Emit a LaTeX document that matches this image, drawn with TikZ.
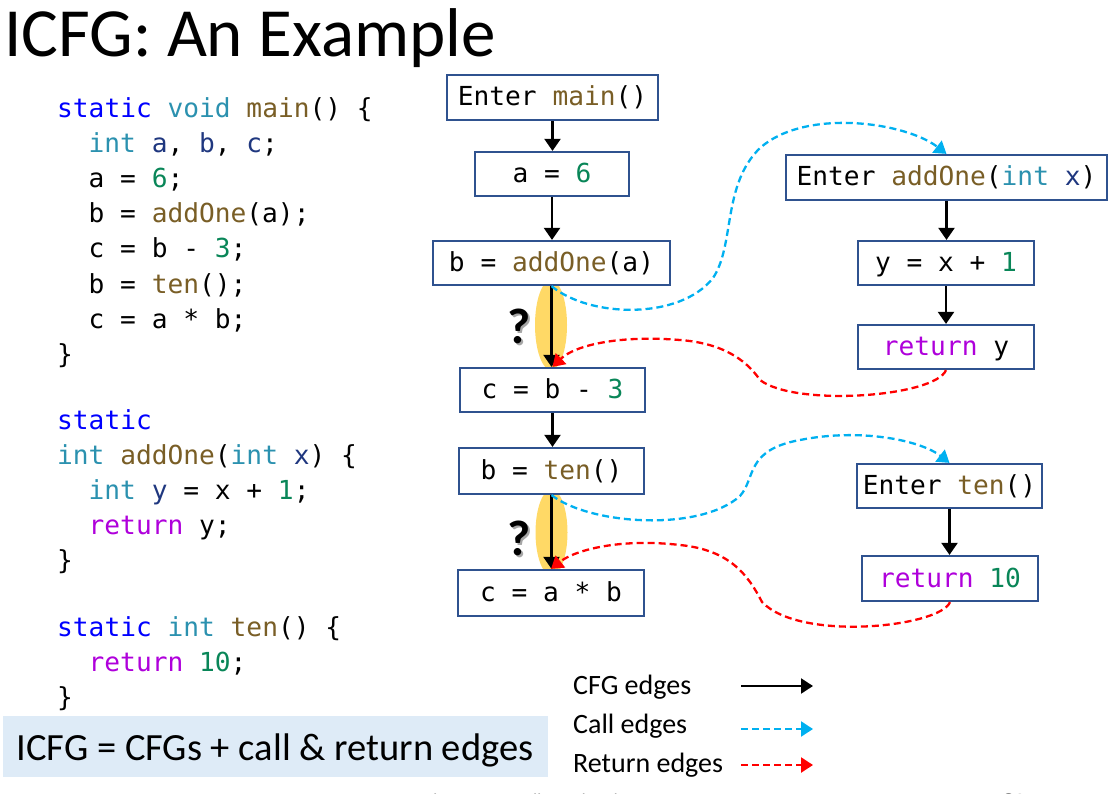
\documentclass[tikz,border=0pt]{standalone}
\usepackage{fontspec}
\setmainfont{Carlito}
\newfontfamily\codefont{DejaVu Sans Mono}
\usetikzlibrary{arrows.meta,shapes.geometric}
\definecolor{kwblue}{RGB}{0,0,255}
\definecolor{kwteal}{RGB}{43,145,175}
\definecolor{fnbrown}{RGB}{121,94,38}
\definecolor{varnavy}{RGB}{31,55,127}
\definecolor{numgreen}{RGB}{9,134,88}
\definecolor{retpurple}{RGB}{175,0,219}
\definecolor{boxblue}{RGB}{47,82,143}
\definecolor{callblue}{RGB}{0,176,240}
\definecolor{hlyellow}{RGB}{255,217,102}
\definecolor{notefill}{RGB}{222,235,247}
\definecolor{footgray}{RGB}{140,140,140}
\newcommand\cstat[1]{\textcolor{kwblue}{#1}}
\newcommand\ctype[1]{\textcolor{kwteal}{#1}}
\newcommand\cfn[1]{\textcolor{fnbrown}{#1}}
\newcommand\cvar[1]{\textcolor{varnavy}{#1}}
\newcommand\cnum[1]{\textcolor{numgreen}{#1}}
\newcommand\cret[1]{\textcolor{retpurple}{#1}}
\tikzset{
  codeline/.style={anchor=base west, inner sep=0pt, font=\codefont\fontsize{26.2}{30}\selectfont},
  cbox/.style={draw=boxblue, line width=2.2pt, fill=white, inner sep=0pt,
    text height=17pt, text depth=0pt, font=\codefont\fontsize{26.2}{30}\selectfont},
  cfgedge/.style={line width=2.2pt, -{Triangle[width=16pt,length=12pt]}},
  calledge/.style={callblue, line width=2.3pt, dash pattern=on 7pt off 4pt, -{Triangle[width=15pt,length=12pt]}},
  retedge/.style={red, line width=2.3pt, dash pattern=on 7pt off 4pt, -{Triangle[width=15pt,length=12pt]}},
  hl/.style={ellipse, fill=hlyellow, inner sep=0pt},
  qmark/.style={inner sep=0pt, font=\fontsize{50}{50}\selectfont\bfseries},
  legend/.style={anchor=base west, inner sep=0pt, font=\fontsize{28}{30}\selectfont},
}
\begin{document}
\begin{tikzpicture}[x=1pt,y=-1pt]
\useasboundingbox (0,0) rectangle (1113,794);
\clip (0,0) rectangle (1113,794);

% title
\node[anchor=base west, inner sep=0pt, font=\fontsize{69}{70}\selectfont] (title) at (4,57) {ICFG: An Example};

% code
\node[codeline] (l1) at (57,118) {\cstat{static} \ctype{void} \cfn{main}() \{};
\node[codeline] (l2) at (88.5,153) {\ctype{int} \cvar{a}, \cvar{b}, \cvar{c};};
\node[codeline] (l3) at (88.5,188) {a = \cnum{6};};
\node[codeline] (l4) at (88.5,223) {b = \cfn{addOne}(a);};
\node[codeline] (l5) at (88.5,258) {c = b - \cnum{3};};
\node[codeline] (l6) at (88.5,293) {b = \cfn{ten}();};
\node[codeline] (l7) at (88.5,328) {c = a * b;};
\node[codeline] (l8) at (57,363) {\}};
\node[codeline] (l9) at (57,429) {\cstat{static}};
\node[codeline] (l10) at (57,464) {\ctype{int} \cfn{addOne}(\ctype{int} \cvar{x}) \{};
\node[codeline] (l11) at (88.5,499) {\ctype{int} \cvar{y} = x + \cnum{1};};
\node[codeline] (l12) at (88.5,534) {\cret{return} y;};
\node[codeline] (l13) at (57,569) {\}};
\node[codeline] (l14) at (57,636) {\cstat{static} \ctype{int} \cfn{ten}() \{};
\node[codeline] (l15) at (88.5,671) {\cret{return} \cnum{10};};
\node[codeline] (l16) at (57,706) {\}};

% highlights
\node[hl, minimum width=32pt, minimum height=90pt] (h1) at (551,325) {};
\node[hl, minimum width=32pt, minimum height=86pt] (h2) at (551.5,532.5) {};

% question marks
\node[qmark, text=gray!70] (q1s) at (521,328) {?};
\node[qmark] (q1) at (519,326) {?};
\node[qmark, text=gray!70] (q2s) at (521,540) {?};
\node[qmark] (q2) at (519,538) {?};

% CFG boxes
\node[cbox, minimum width=211pt, minimum height=45pt] (main0) at (552.5,97.5) {Enter \cfn{main}()};
\node[cbox, minimum width=154pt, minimum height=44pt] (a6) at (552,174) {a = \cnum{6}};
\node[cbox, minimum width=237pt, minimum height=44pt] (bcall) at (551.5,263) {b = \cfn{addOne}(a)};
\node[cbox, minimum width=185pt, minimum height=44pt] (cb3) at (552.5,390) {c = b - \cnum{3}};
\node[cbox, minimum width=185pt, minimum height=46pt] (bten) at (551.5,471) {b = \cfn{ten}()};
\node[cbox, minimum width=186pt, minimum height=46pt] (cab) at (551,593) {c = a * b};
\node[cbox, minimum width=321pt, minimum height=45pt] (eadd) at (946.5,177.5) {Enter \cfn{addOne}(\ctype{int} \cvar{x})};
\node[cbox, minimum width=176pt, minimum height=44pt] (yx1) at (946,263) {y = x + \cnum{1}};
\node[cbox, minimum width=176pt, minimum height=44pt] (rety) at (946,347) {\cret{return} y};
\node[cbox, minimum width=185pt, minimum height=44pt] (eten) at (949.5,486) {Enter \cfn{ten}()};
\node[cbox, minimum width=176pt, minimum height=45pt] (ret10) at (950,578.5) {\cret{return} \cnum{10}};

% CFG edges
\draw[cfgedge] (main0.south) -- (main0.south |- a6.north);
\draw[cfgedge] (a6.south) -- (a6.south |- bcall.north);
\draw[cfgedge] (bcall.south) -- (bcall.south |- cb3.north);
\draw[cfgedge] (cb3.south) -- (cb3.south |- bten.north);
\draw[cfgedge] (bten.south) -- (bten.south |- cab.north);
\draw[cfgedge] (eadd.south) -- (eadd.south |- yx1.north);
\draw[cfgedge] (yx1.south) -- (yx1.south |- rety.north);
\draw[cfgedge] (eten.south) -- (eten.south |- ret10.north);

% call edges
\draw[calledge] (bcall.south) .. controls (590,318) and (680,320) .. (713,278)
  .. controls (735,245) and (722,185) .. (760,148)
  .. controls (805,108) and (905,122) .. (eadd.north);
\draw[calledge] (bten.south) .. controls (590,525) and (700,532) .. (740,496)
  .. controls (756,478) and (745,450) .. (800,440)
  .. controls (860,428) and (920,440) .. (eten.north);

% return edges
\draw[retedge] (rety.south) .. controls (935,397) and (795,407) .. (760,380)
  .. controls (745,358) and (720,343) .. (680,340)
  .. controls (620,335) and (575,345) .. (cb3.north);
\draw[retedge] (ret10.south) .. controls (940,627) and (800,642) .. (762,602)
  .. controls (748,575) and (730,550) .. (680,545)
  .. controls (620,538) and (575,550) .. (cab.north);

% note box
\node[fill=notefill, minimum width=545pt, minimum height=61pt, inner sep=0pt] (note) at (275.5,746.5) {};
\node[anchor=base, inner sep=0pt, font=\fontsize{38.5}{40}\selectfont] (notetext) at (275,760) {ICFG = CFGs + call \& return edges};

% legend
\node[legend] (lg1) at (573,694) {CFG edges};
\node[legend] (lg2) at (573,733) {Call edges};
\node[legend] (lg3) at (573,772) {Return edges};
\coordinate (lc1s) at (741,686);
\coordinate (lc1e) at (813,686);
\coordinate (lc2s) at (741,729);
\coordinate (lc2e) at (813,729);
\coordinate (lc3s) at (741,765);
\coordinate (lc3e) at (813,765);
\draw[line width=2.2pt, -{Triangle[width=15pt,length=12pt]}] (lc1s) -- (lc1e);
\draw[calledge] (lc2s) -- (lc2e);
\draw[retedge] (lc3s) -- (lc3e);

% footer (cut off at the lower edge, as in the reference)
\node[anchor=base west, inner sep=0pt, text=footgray, font=\fontsize{17}{18}\selectfont] (foot) at (425,805) {Tian Tan @ Nanjing University};
\node[anchor=base west, inner sep=0pt, text=footgray, font=\fontsize{22}{24}\selectfont] (pnum) at (1003,808) {80};
\end{tikzpicture}
\end{document}
